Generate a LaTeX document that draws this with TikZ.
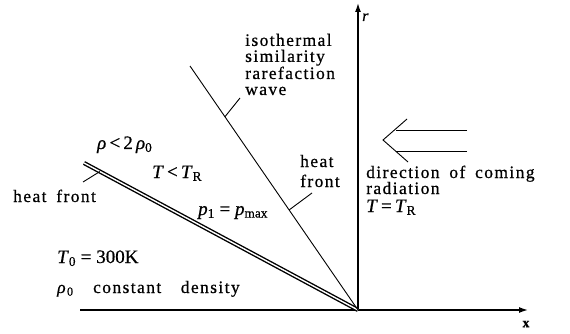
\documentclass[tikz,border=0pt]{standalone}
\usepackage{fontspec}
\setmainfont{Liberation Serif}
\newfontfamily\lsfont[LetterSpace=8,WordSpace=2.5,FakeBold=0.6]{Liberation Serif}
\newfontfamily\lsnfont[LetterSpace=8,WordSpace=1.3,FakeBold=0.6]{Liberation Serif}
\newfontfamily\mfont[FakeBold=0.6]{Liberation Serif}
\usetikzlibrary{arrows.meta,calc}
\begin{document}
\begin{tikzpicture}[x=1pt,y=-1pt,
  lbl/.style={font=\fontsize{17.5}{16}\lsfont, inner sep=0pt, anchor=base west, align=left},
  mth/.style={font=\fontsize{19}{19}\mfont, inner sep=0pt, anchor=base west},
  axis/.style={line width=1.4pt, -{Latex[length=9pt,width=6pt]}},
  thin/.style={line width=0.9pt},
  front/.style={double, double distance=1.4pt, line width=1.4pt}]
\useasboundingbox (0,0) rectangle (570,334);
% axes
\coordinate (O) at (358,310);
\coordinate (xs) at (80,310);
\coordinate (xe) at (528,310);
\coordinate (ye) at (358,3);
\draw[axis] (xs) -- (xe);
\draw[axis] (O) -- (ye);
\node[font=\fontsize{14}{14}\mfont\bfseries, inner sep=0pt] (xl) at (526,324) {x};
\node[font=\fontsize{16}{16}\mfont\itshape, inner sep=0pt, anchor=base west] (rl) at (362,21) {r};
% fronts
\coordinate (hf) at (84,163);
\coordinate (rw) at (190,66);
\draw[front] (hf) -- (O);
\draw[thin] (rw) -- (O);
% labels
\node[lbl] (iso) at (245,95) {isothermal\\similarity\\rarefaction\\wave};
\coordinate (isoL) at (240,98);
\draw[thin] (isoL) -- ($(rw)!0.208!(O)$);
\node[lbl, font=\fontsize{17.5}{20}\lsfont] (hft) at (300,187) {heat\\front};
\coordinate (hftL) at (312,193);
\draw[thin] (hftL) -- ($(rw)!0.59!(O)$);
\node[lbl, font=\fontsize{17.5}{16}\lsnfont] (hfl) at (13,202) {heat front};
\coordinate (hflL) at (83,182);
\draw[thin] (hflL) -- ($(hf)!0.058!(O)$);
\node[mth] (rho) at (97,149) {\textit{ρ}\,<\,2\,\textit{ρ}\textsubscript{0}};
\node[mth] (TTR) at (152,178) {\textit{T}\,<\,\textit{T}\textsubscript{R}};
\node[mth] (pmax) at (198,215) {\textit{p}\textsubscript{1}\ =\ \textit{p}\textsubscript{max}};
\node[mth] (T0) at (57,263) {\textit{T}\textsubscript{0}\ =\ 300K};
\node[lbl, font=\fontsize{17.5}{16}\lsnfont] (rho0) at (57,293) {\textit{ρ}\textsubscript{0}\ \ constant\ \ density};
\node[lbl] (dir) at (366,194) {direction of coming\\radiation};
\node[mth] (TR) at (366,212) {\textit{T}\,=\,\textit{T}\textsubscript{R}};
% hollow arrow
\coordinate (a1) at (467,130);
\coordinate (a2) at (396,130);
\coordinate (a3) at (467,151);
\coordinate (a4) at (396,151);
\coordinate (c1) at (407,119);
\coordinate (ct) at (383,140);
\coordinate (c2) at (408,162);
\draw[thin] (a1) -- (a2);
\draw[thin] (a3) -- (a4);
\draw[thin] (c1) -- (ct) -- (c2);
\end{tikzpicture}
\end{document}
